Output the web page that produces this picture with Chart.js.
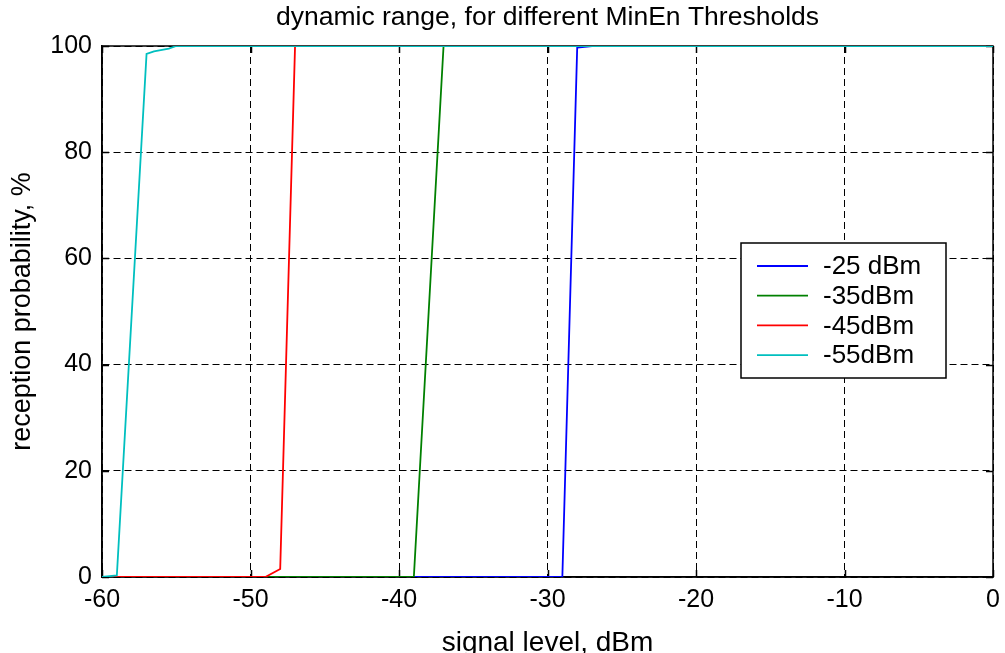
<!DOCTYPE html>
<html>
<head>
<meta charset="utf-8">
<script src="https://cdn.jsdelivr.net/npm/chart.js@4/dist/chart.umd.min.js"></script>
<style>
  html, body { margin: 0; padding: 0; background: #fff; }
  #wrap { width: 1005px; height: 653px; }
</style>
</head>
<body>
<div id="wrap"><canvas id="chartRange"></canvas></div>
<script>
// values
const seriesLabels = ['-25 dBm', '-35dBm', '-45dBm', '-55dBm'];
const seriesColors = ['#0000ff', '#008000', '#ff0000', '#00bfbf'];

const level25 = [-60, -29, -28, -27, 0];
const prob25 = [0, 0, 99.7, 100, 100];

const level35 = [-60, -39, -38, -37, 0];
const prob35 = [0, 0, 50, 100, 100];

const level45 = [-60, -49, -48, -47, 0];
const prob45 = [0, 0, 1.5, 100, 100];

const level55 = [-60, -59, -57, -56.5, -55.5, -55, 0];
const prob55 = [0, 0.3, 98.5, 99, 99.5, 100, 100];

const xTicks = [-60, -50, -40, -30, -20, -10, 0];
const yTicks = [0, 20, 40, 60, 80, 100];

const FONT = "'Liberation Sans', Arial, sans-serif";

function toPoints(xs, ys) {
    return xs.map(function(x, i) { return { x: x, y: ys[i] }; });
}

const allLevels = [level25, level35, level45, level55];
const allProbs = [prob25, prob35, prob45, prob55];

const datasets = seriesLabels.map(function(label, i) {
    return {
        label: label,
        data: toPoints(allLevels[i], allProbs[i]),
        borderColor: seriesColors[i],
        backgroundColor: seriesColors[i],
        borderWidth: 1.8,
        pointRadius: 0,
        tension: 0,
        fill: false,
        order: seriesLabels.length - i   // last series ends up on top
    };
});

// matlab style box with inward ticks, drawn under the lines
const boxPlugin = {
    id: 'box',
    beforeDatasetsDraw(chart) {
        const { ctx, chartArea: a, scales } = chart;
        ctx.save();
        ctx.strokeStyle = '#000';
        ctx.lineWidth = 1.5;
        ctx.setLineDash([]);
        ctx.strokeRect(a.left, a.top, a.right - a.left, a.bottom - a.top);
        const len = 7;
        ctx.beginPath();
        xTicks.forEach(function(v) {
            const px = Math.round(scales.x.getPixelForValue(v)) + 0.5;
            ctx.moveTo(px, a.bottom); ctx.lineTo(px, a.bottom - len);
            ctx.moveTo(px, a.top); ctx.lineTo(px, a.top + len);
        });
        yTicks.forEach(function(v) {
            const py = Math.round(scales.y.getPixelForValue(v)) + 0.5;
            ctx.moveTo(a.left, py); ctx.lineTo(a.left + len, py);
            ctx.moveTo(a.right, py); ctx.lineTo(a.right - len, py);
        });
        ctx.stroke();
        ctx.restore();
    }
};

// legend box inside the plot, right side
const legendBox = {
    id: 'legendBox',
    afterDatasetsDraw(chart) {
        const { ctx, chartArea: a } = chart;
        const bx = a.left + 639, by = a.top + 197, bw = 205, bh = 135;
        ctx.save();
        ctx.fillStyle = '#fff';
        ctx.fillRect(bx, by, bw, bh);
        ctx.strokeStyle = '#000';
        ctx.lineWidth = 1.5;
        ctx.strokeRect(bx, by, bw, bh);
        ctx.font = '26px ' + FONT;
        ctx.textBaseline = 'middle';
        chart.data.datasets.forEach(function(ds, i) {
            const y = by + 23 + i * 29.7;
            ctx.strokeStyle = ds.borderColor;
            ctx.lineWidth = 1.8;
            ctx.beginPath();
            ctx.moveTo(bx + 16, y);
            ctx.lineTo(bx + 67, y);
            ctx.stroke();
            ctx.fillStyle = '#000';
            ctx.fillText(ds.label, bx + 82, y + 1);
        });
        ctx.restore();
    }
};

const ctxRange = document.getElementById('chartRange').getContext('2d');
const chartRange = new Chart(ctxRange, {
    type: 'line',
    data: { datasets: datasets },
    plugins: [boxPlugin, legendBox],
    options: {
        responsive: true,
        maintainAspectRatio: false,
        animation: false,
        layout: { padding: { left: 0, right: 12, top: 0, bottom: 0 } },
        plugins: {
            legend: { display: false },
            tooltip: { enabled: false },
            title: {
                display: true,
                text: 'dynamic range, for different MinEn Thresholds',
                color: '#000',
                fullSize: false,
                font: { family: FONT, size: 26.5, weight: 'normal', lineHeight: 1.2 },
                padding: { top: 2, bottom: 12.2 }
            }
        },
        scales: {
            x: {
                type: 'linear',
                min: -60,
                max: 0,
                afterBuildTicks: function(scale) {
                    scale.ticks = xTicks.map(function(v) { return { value: v }; });
                },
                afterFit: function(scale) {
                    scale.height = 76;
                    scale.paddingLeft = 0;
                    scale.paddingRight = 0;
                },
                ticks: {
                    color: '#000',
                    font: { family: FONT, size: 25 },
                    padding: 8,
                    maxRotation: 0,
                    autoSkip: false
                },
                grid: { color: '#000', lineWidth: 1, drawTicks: false },
                border: { display: true, color: '#000', width: 1.5, dash: [7, 4] },
                title: {
                    display: true,
                    text: 'signal level, dBm',
                    color: '#000',
                    font: { family: FONT, size: 28 },
                    padding: { top: 0, bottom: -7 }
                }
            },
            y: {
                type: 'linear',
                min: 0,
                max: 100,
                afterBuildTicks: function(scale) {
                    scale.ticks = yTicks.map(function(v) { return { value: v }; });
                },
                afterFit: function(scale) { scale.width = 102; },
                ticks: {
                    color: '#000',
                    font: { family: FONT, size: 25 },
                    padding: 10
                },
                grid: { color: '#000', lineWidth: 1, drawTicks: false },
                border: { display: true, color: '#000', width: 1.5, dash: [7, 4] },
                title: {
                    display: true,
                    text: 'reception probability, %',
                    color: '#000',
                    font: { family: FONT, size: 27 },
                    padding: { top: 6, bottom: 0 }
                }
            }
        }
    }
});
</script>
</body>
</html>
